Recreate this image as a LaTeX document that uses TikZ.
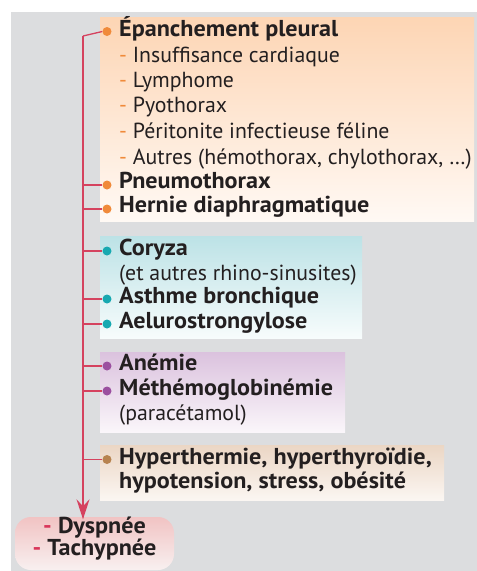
\documentclass[tikz,border=0pt]{standalone}
\usepackage{fontspec}
\setmainfont{PT Sans}
\newfontfamily\boldf{PT Sans Bold}[FakeStretch=1.05]
\usetikzlibrary{arrows.meta}
\definecolor{panel}{HTML}{DCDDDF}
\definecolor{txt}{HTML}{231F20}
\definecolor{linkred}{HTML}{D5425F}
\definecolor{oraTop}{HTML}{FDD5B4}
\definecolor{oraBot}{HTML}{FFF9F4}
\definecolor{teaTop}{HTML}{BCE2E6}
\definecolor{teaBot}{HTML}{F7FCFC}
\definecolor{purTop}{HTML}{DBC2DE}
\definecolor{purBot}{HTML}{FAF6FA}
\definecolor{broTop}{HTML}{EBD6C4}
\definecolor{broBot}{HTML}{FBF6F2}
\definecolor{dysTop}{HTML}{F1C3C3}
\definecolor{dysBot}{HTML}{F8F0F0}
\definecolor{ora}{HTML}{F08A3A}
\definecolor{tea}{HTML}{17A9B1}
\definecolor{pur}{HTML}{9B4FA0}
\definecolor{bro}{HTML}{B7834F}
\definecolor{dysred}{HTML}{D9365A}
\tikzset{
  item/.style={anchor=base west, inner sep=0pt, text=txt, font=\fontsize{21.8}{26}\selectfont},
  bitem/.style={item, font=\fontsize{23}{27}\boldf},
  dot/.style={circle, fill=#1, inner sep=0pt, minimum size=9pt},
  link/.style={draw=linkred, line width=1.3pt},
  sub/.style={item},
}
\newcommand{\od}{\textcolor{ora}{-}\ }
\begin{document}
\begin{tikzpicture}[x=1pt,y=-1pt]
\useasboundingbox (0,0) rectangle (477,571);
\fill[white] (0,0) rectangle (477,571);
\fill[panel] (11,12) rectangle (477,571);
% boxes
\shade[top color=oraTop, bottom color=oraBot] (100,17) rectangle (474,221);
\shade[top color=teaTop, bottom color=teaBot] (100,236) rectangle (362,338);
\shade[top color=purTop, bottom color=purBot] (100,352) rectangle (345,432);
\shade[top color=broTop, bottom color=broBot] (100,445) rectangle (444,500);
% orange group
\node[dot=ora] (d1) at (107,31.5) {};
\node[bitem] (t1) at (119,36) {Épanchement pleural};
\node[sub] (s1) at (119,62.5) {\od Insuffisance cardiaque};
\node[sub] (s2) at (119,87.5) {\od Lymphome};
\node[sub] (s3) at (119,112.5) {\od Pyothorax};
\node[sub] (s4) at (119,138.5) {\od Péritonite infectieuse féline};
\node[sub] (s5) at (119,164) {\od Autres (hémothorax, chylothorax, …)};
\node[dot=ora] (d2) at (107,185) {};
\node[bitem] (t2) at (119,188.5) {Pneumothorax};
\node[dot=ora] (d3) at (107,209) {};
\node[bitem] (t3) at (119,212.5) {Hernie diaphragmatique};
% teal group
\node[dot=tea] (d4) at (107,251) {};
\node[bitem] (t4) at (119,255) {Coryza};
\node[item] (t4b) at (119,280) {(et autres rhino-sinusites)};
\node[dot=tea] (d5) at (107,299) {};
\node[bitem] (t5) at (119,303.5) {Asthme bronchique};
\node[dot=tea] (d6) at (107,324) {};
\node[bitem] (t6) at (119,328.5) {Aelurostrongylose};
% purple group
\node[dot=pur] (d7) at (107,366) {};
\node[bitem] (t7) at (119,370.5) {Anémie};
\node[dot=pur] (d8) at (107,391) {};
\node[bitem] (t8) at (119,395.5) {Méthémoglobinémie};
\node[item] (t8b) at (119,420) {(paracétamol)};
% brown group
\node[dot=bro] (d9) at (107,459.5) {};
\node[bitem] (t9) at (119,464) {Hyperthermie, hyperthyroïdie,};
\node[bitem] (t9b) at (119,488.5) {hypotension, stress, obésité};
% result
\shade[top color=dysTop, bottom color=dysBot, rounded corners=16pt] (15,517) rectangle (174,570);
\node[inner sep=0pt] (dys) at (94.5,517) {};
\node[bitem, anchor=base] (r1) at (94.5,533.5) {\textcolor{dysred}{-} Dyspnée};
\node[bitem, anchor=base] (r2) at (94.5,555.5) {\textcolor{dysred}{-} Tachypnée};
% connectors
\coordinate (top) at (83,36);
\draw[link] (d1.west) -- (top);
\draw[link, -{Stealth[length=20pt,width=13pt,inset=7pt]}, shorten >=-3pt] (top) -- (top |- dys.north);
\foreach \d in {d2,d3,d4,d5,d6,d7,d8,d9}
  \draw[link] (top |- \d.west) -- (\d.west);
\end{tikzpicture}
\end{document}
